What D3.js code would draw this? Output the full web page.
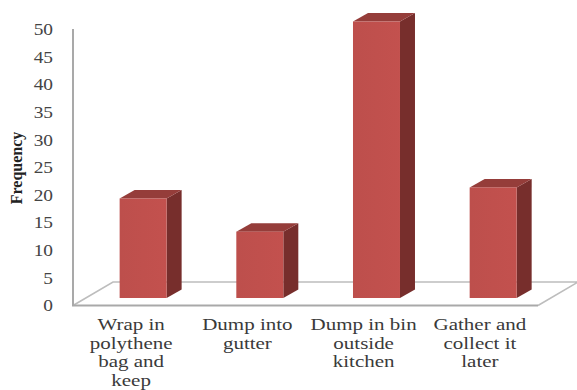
<!DOCTYPE html>
<html>
<head>
<meta charset="utf-8">
<script src="https://cdn.jsdelivr.net/npm/d3@7/dist/d3.min.js"></script>
<style>
html,body{margin:0;padding:0;background:#fff;}
svg{display:block;}
text{font-family:"Liberation Serif",serif;}
</style>
</head>
<body>
<svg id="chart" width="577" height="390"></svg>
<script>
// Chart values
const categories = [
  ["Wrap in", "polythene", "bag and", "keep"],
  ["Dump into", "gutter"],
  ["Dump in bin", "outside", "kitchen"],
  ["Gather and", "collect it", "later"]
];
const frequencies = [18, 12, 50, 20];
const valueTicks = [0, 5, 10, 15, 20, 25, 30, 35, 40, 45, 50];

const svg = d3.select("#chart");
// Labels sit on the front edge of the floor, columns on a plane set back from it
const x = d3.scaleBand().domain(d3.range(categories.length)).range([73, 538]);
const xBar = d3.scaleBand().domain(d3.range(categories.length)).range([84.8, 551.5]);
const y = d3.scaleLinear().domain([0, 50]).range([305.5, 29]);

// Oblique projection of the floor and of each column
const floorDepth = {dx: 40, dy: -23.5};
const barSetbackY = -7.5;
const barDepth = {dx: 15, dy: -8.5};
const barWidth = 47;
const axisGrey = "#a9a9a9";

// Floor outline
const floorLine = d3.line();
svg.append("path")
  .attr("d", floorLine([
    [x.range()[0], y(0)],
    [x.range()[0] + floorDepth.dx, y(0) + floorDepth.dy],
    [x.range()[1] + floorDepth.dx, y(0) + floorDepth.dy],
    [x.range()[1], y(0)]
  ]))
  .attr("fill", "none").attr("stroke", "#bdbdbd").attr("stroke-width", 1.6);

// Front edge of the floor and the value axis
svg.append("path")
  .attr("d", floorLine([[x.range()[0], y(50)], [x.range()[0], y(0)], [x.range()[1], y(0)]]))
  .attr("fill", "none").attr("stroke", axisGrey).attr("stroke-width", 2);

// Front face gradient
const grad = svg.append("defs").append("linearGradient").attr("id", "front")
  .attr("x1", 0).attr("x2", 1).attr("y1", 0).attr("y2", 0);
grad.append("stop").attr("offset", "0").attr("stop-color", "#bd4f4c");
grad.append("stop").attr("offset", "1").attr("stop-color", "#c3514e");

const bars = svg.append("g").selectAll("g").data(frequencies).join("g");
const left = (d, i) => xBar(i) + xBar.bandwidth() / 2 - barWidth / 2;
const base = y(0) + barSetbackY;
const top3d = d => y(d) + barSetbackY;
const poly = pts => floorLine(pts) + "Z";

// Side face
bars.append("path").attr("fill", "#772e2c").attr("d", (d, i) => {
  const r = left(d, i) + barWidth;
  return poly([[r, base], [r, top3d(d)], [r + barDepth.dx, top3d(d) + barDepth.dy], [r + barDepth.dx, base + barDepth.dy]]);
});
// Top face
bars.append("path").attr("fill", "#953d3a").attr("d", (d, i) => {
  const l = left(d, i), t = top3d(d);
  return poly([[l, t], [l + barWidth, t], [l + barWidth + barDepth.dx, t + barDepth.dy], [l + barDepth.dx, t + barDepth.dy]]);
});
// Front face
bars.append("rect")
  .attr("x", left)
  .attr("y", top3d)
  .attr("width", barWidth)
  .attr("height", d => base - top3d(d))
  .attr("fill", "url(#front)");

// Value axis labels
const axis = svg.append("g")
  .attr("transform", "translate(53,0)")
  .call(d3.axisLeft(y).tickValues(valueTicks).tickSize(0).tickPadding(0));
axis.select(".domain").remove();
axis.selectAll("text")
  .attr("font-family", "Liberation Serif")
  .attr("font-size", 17)
  .attr("fill", "#444")
  .attr("transform", "scale(1.14,1)");

// Category labels, wrapped on several lines
const catLabels = svg.append("g").selectAll("text").data(categories).join("text")
  .attr("transform", (d, i) => `translate(${x(i) + x.bandwidth() / 2},330) scale(1.2,1)`)
  .attr("text-anchor", "middle")
  .attr("font-size", 17.5)
  .attr("fill", "#3a3a3a");
catLabels.selectAll("tspan").data(d => d).join("tspan")
  .attr("x", 0)
  .attr("y", (d, i) => i * 18.6)
  .text(d => d);

// Axis title
svg.append("text")
  .attr("transform", "translate(22,168) rotate(-90)")
  .attr("text-anchor", "middle")
  .attr("font-size", 16)
  .attr("font-weight", "bold")
  .attr("fill", "#222")
  .text("Frequency");
</script>
</body>
</html>
